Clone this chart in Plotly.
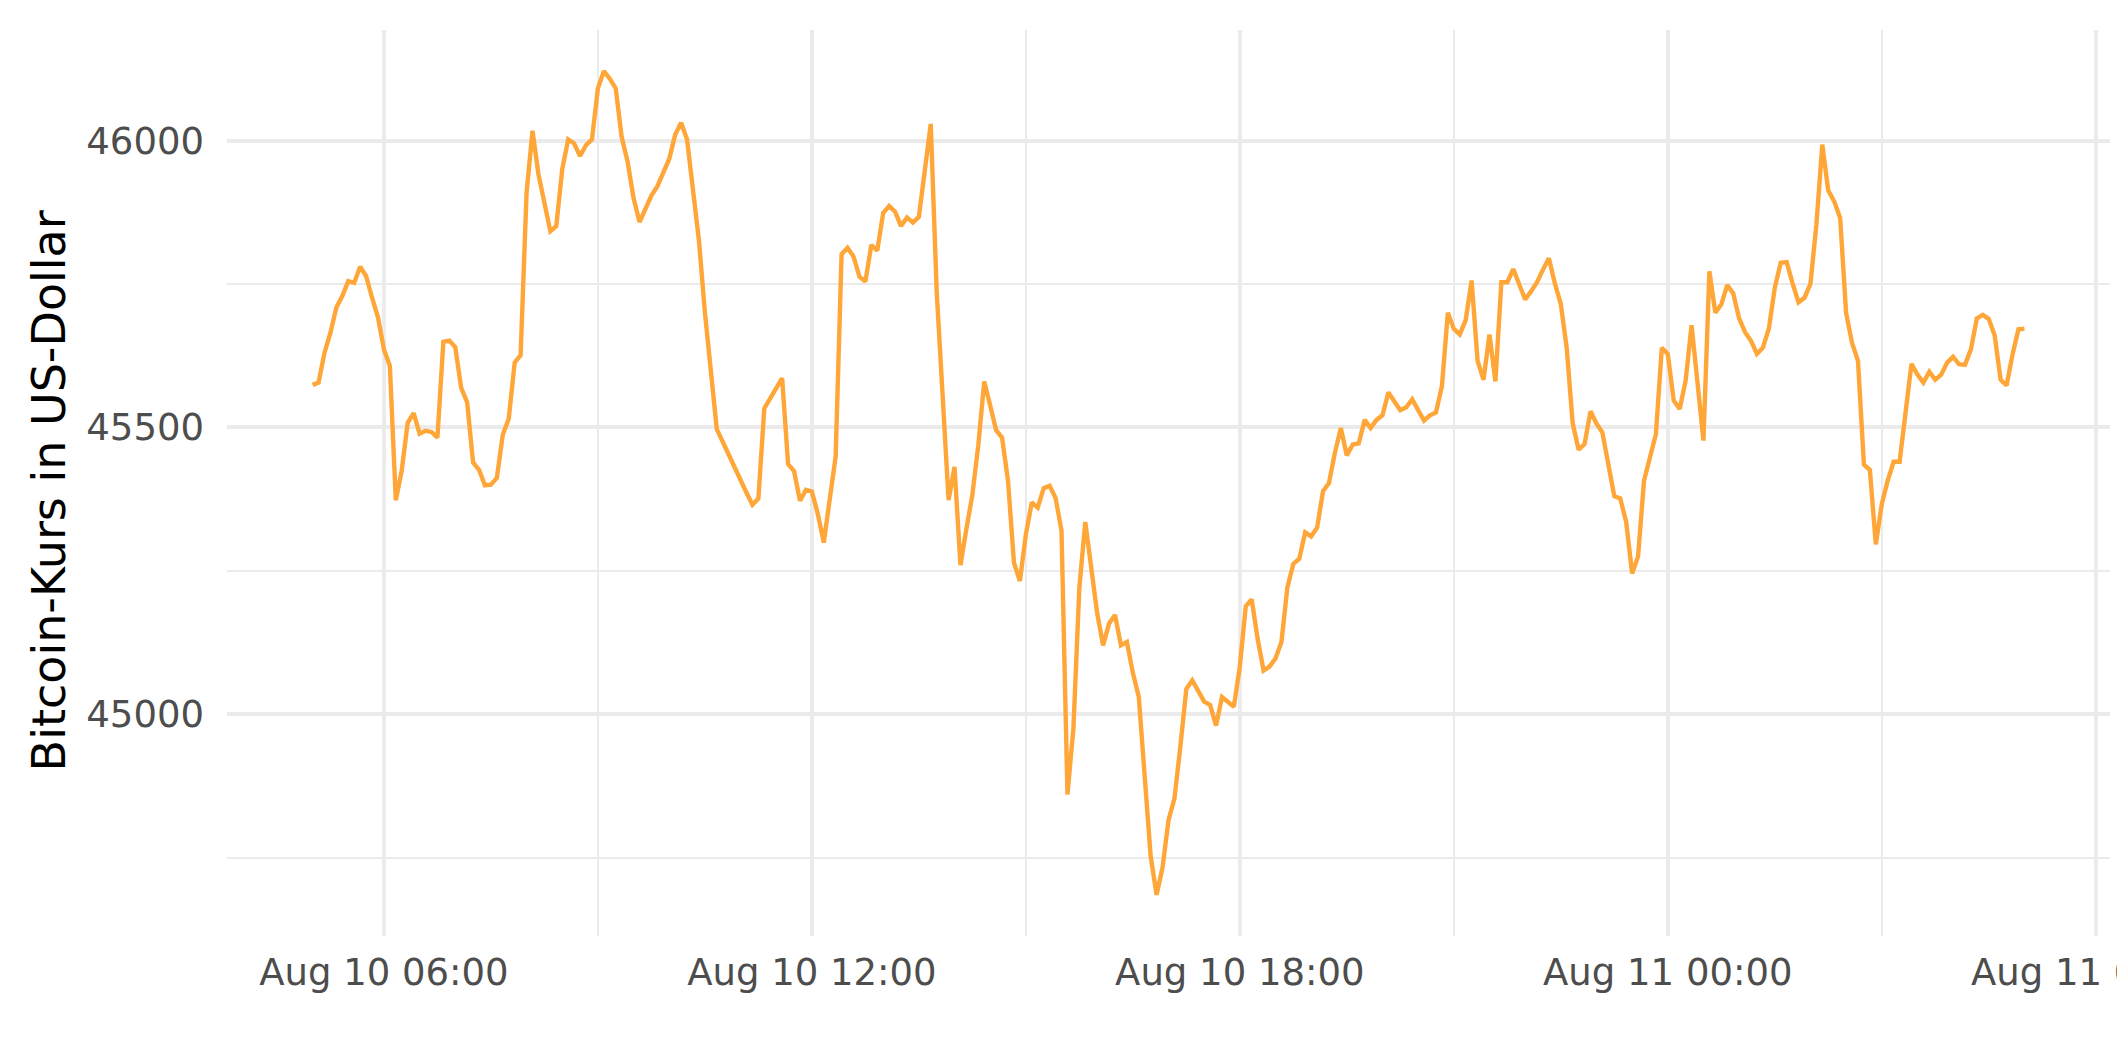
import pandas as pd
import plotly.graph_objects as go

start_time = "2021-08-10 05:00"
step = "5min"

price_usd = [
    45574, 45578, 45630, 45665, 45709, 45729, 45755, 45752, 45780, 45764,
    45726, 45692, 45636, 45607, 45373, 45425, 45508, 45525, 45489, 45494,
    45492, 45482, 45649, 45651, 45640, 45569, 45544, 45439, 45426, 45399,
    45400, 45412, 45487, 45515, 45613, 45626, 45909, 46017, 45941, 45895,
    45842, 45851, 45950, 46002, 45995, 45973, 45992, 46002, 46091, 46121,
    46108, 46091, 46006, 45963, 45900, 45858, 45882, 45904, 45920, 45944,
    45968, 46010, 46031, 46002, 45913, 45826, 45701, 45601, 45497, 45475,
    45452, 45431, 45409, 45386, 45365, 45376, 45533, 45551, 45567, 45586,
    45436, 45424, 45372, 45391, 45388, 45349, 45299, 45371, 45449, 45802,
    45813, 45798, 45763, 45754, 45818, 45808, 45874, 45886, 45876, 45851,
    45866, 45857, 45867, 45948, 46029, 45737, 45557, 45373, 45431, 45260,
    45323, 45382, 45469, 45580, 45538, 45495, 45482, 45407, 45264, 45232,
    45313, 45369, 45360, 45394, 45398, 45377, 45320, 44860, 44975, 45220,
    45335, 45251, 45176, 45120, 45158, 45173, 45120, 45126, 45072, 45030,
    44891, 44752, 44685, 44733, 44815, 44853, 44944, 45044, 45059, 45042,
    45022, 45016, 44980, 45030, 45022, 45013, 45083, 45188, 45200, 45131,
    45076, 45083, 45097, 45126, 45221, 45262, 45271, 45317, 45310, 45325,
    45389, 45403, 45456, 45499, 45451, 45470, 45472, 45513, 45499, 45513,
    45521, 45561, 45545, 45530, 45535, 45549, 45530, 45512, 45521, 45526,
    45572, 45700, 45672, 45662, 45687, 45756, 45616, 45583, 45662, 45580,
    45753, 45753, 45776, 45748, 45723, 45737, 45753, 45775, 45795, 45751,
    45715, 45638, 45507, 45461, 45471, 45528, 45507, 45491, 45432, 45380,
    45376, 45335, 45245, 45275, 45407, 45444, 45488, 45639, 45628, 45547,
    45532, 45581, 45678, 45578, 45477, 45772, 45700, 45714, 45748, 45734,
    45690, 45666, 45651, 45628, 45639, 45672, 45743, 45787, 45788, 45751,
    45718, 45726, 45750, 45853, 45993, 45913, 45894, 45865, 45700, 45647,
    45616, 45435, 45426, 45296, 45366, 45407, 45440, 45440, 45524, 45611,
    45592, 45578, 45597, 45583, 45592, 45613, 45623, 45610, 45609, 45636,
    45690, 45696, 45689, 45660, 45583, 45573, 45627, 45671, 45672,
]

y_title = "Bitcoin-Kurs in US-Dollar"
x_tick_format = "%b %d %H:%M"
y_tick_format = "d"

times = pd.date_range(start_time, periods=len(price_usd), freq=step)

# ggplot-like 5% expansion on both axes
t0, t1 = times[0], times[-1]
tspan = t1 - t0
x_range = [t0 - 0.05 * tspan, t1 + 0.05 * tspan]
ymin, ymax = min(price_usd), max(price_usd)
yspan = ymax - ymin
y_range = [ymin - 0.05 * yspan, ymax + 0.05 * yspan]

FONT = "DejaVu Sans"
GRID = "#EBEBEB"
TICK_COLOR = "#4D4D4D"

fig = go.Figure()
fig.add_trace(go.Scatter(
    x=times, y=price_usd, mode="lines",
    line=dict(color="#FFA638", width=4.4),
    hoverinfo="skip", showlegend=False,
))

fig.update_layout(
    width=2125, height=1062,
    margin=dict(l=219, r=23, t=22, b=134),
    paper_bgcolor="white", plot_bgcolor="white",
    font=dict(family=FONT, color=TICK_COLOR, size=37),
)

fig.update_xaxes(
    range=x_range, type="date",
    tick0="2021-08-10 00:00", dtick=6 * 3600 * 1000,
    tickformat=x_tick_format,
    showgrid=True, gridcolor=GRID, gridwidth=4.2,
    minor=dict(dtick=3 * 3600 * 1000, tick0="2021-08-10 00:00",
               showgrid=True, gridcolor=GRID, gridwidth=2.1),
    zeroline=False, showline=False, ticks="",
    tickfont=dict(family=FONT, size=37, color=TICK_COLOR),
    ticklabelstandoff=11,
    ticklabeloverflow="allow",
    automargin=False,
)

fig.update_yaxes(
    range=y_range,
    tick0=0, dtick=500, tickformat=y_tick_format,
    showgrid=True, gridcolor=GRID, gridwidth=4.2,
    minor=dict(dtick=250, tick0=0, showgrid=True, gridcolor=GRID, gridwidth=2.1),
    zeroline=False, showline=False, ticks="",
    tickfont=dict(family=FONT, size=37, color=TICK_COLOR),
    ticklabelstandoff=22,
    automargin=False,
)

fig.add_annotation(
    text=y_title, textangle=-90,
    xref="paper", yref="paper", x=0, y=0.4907,
    xanchor="center", yanchor="middle", xshift=-178,
    showarrow=False,
    font=dict(family=FONT, size=46, color="black"),
)

fig.write_html("out.html")
